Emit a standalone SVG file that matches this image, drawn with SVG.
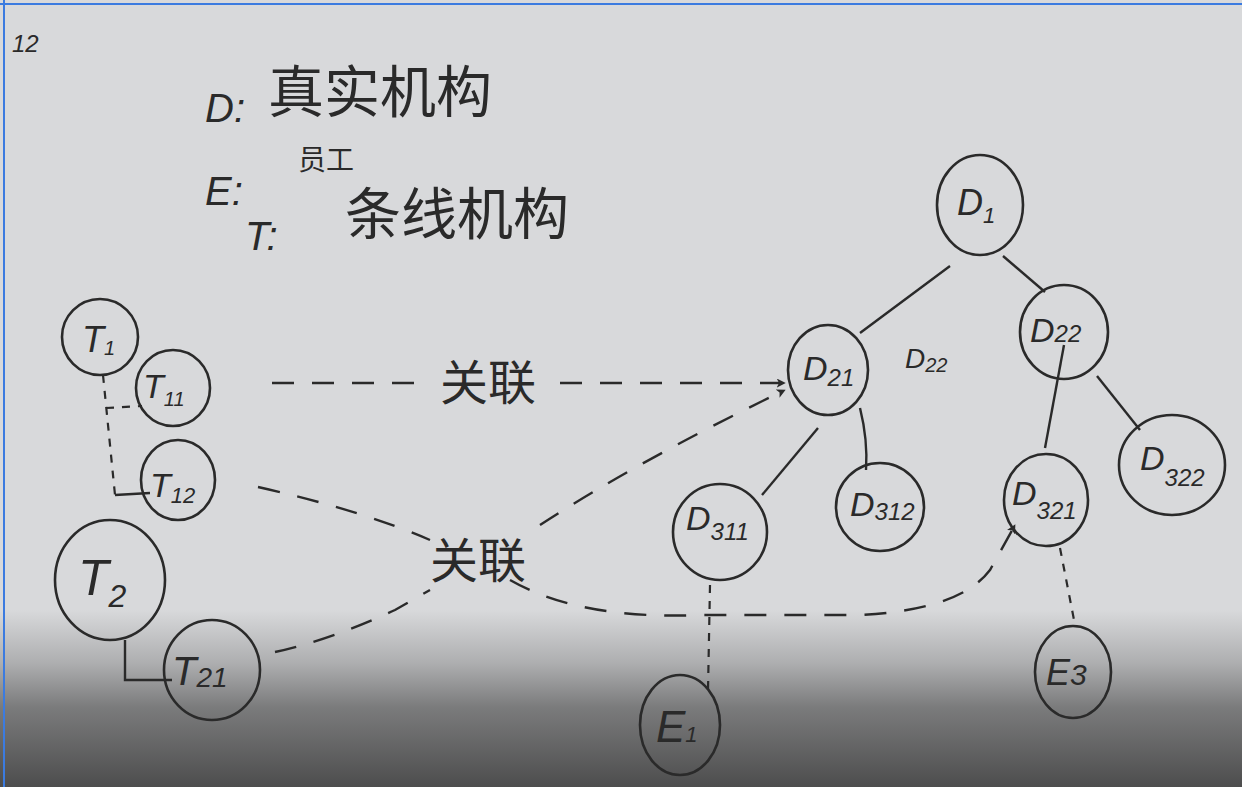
<svg xmlns="http://www.w3.org/2000/svg" width="1242" height="787" viewBox="0 0 1242 787">
<defs>
<linearGradient id="shade" x1="0" y1="0" x2="0" y2="1">
<stop offset="0" stop-color="#2e2e2e" stop-opacity="0"/>
<stop offset="0.3" stop-color="#2e2e2e" stop-opacity="0.25"/>
<stop offset="0.55" stop-color="#2e2e2e" stop-opacity="0.55"/>
<stop offset="1" stop-color="#2a2a2a" stop-opacity="0.8"/>
</linearGradient>
<marker id="arr" viewBox="0 0 12 12" refX="11" refY="6" markerWidth="9" markerHeight="9" orient="auto" markerUnits="userSpaceOnUse">
<path d="M0,0 L12,6 L0,12 L3,6 Z" fill="#2a2a2a"/>
</marker>
</defs>
<style>
.bg{fill:#d8d9db}
.node{fill:none;stroke:#2a2a2a;stroke-width:2.6}
.lab{font-family:"Liberation Sans","Noto Sans CJK SC",sans-serif;fill:#2a2a2a;font-style:italic}
.cn{font-family:"Noto Sans CJK SC","Liberation Sans",sans-serif;fill:#2a2a2a}
.solid{fill:none;stroke:#2a2a2a;stroke-width:2.4}
.dash{fill:none;stroke:#2a2a2a;stroke-width:2.4;stroke-dasharray:22 18}
.dash2{fill:none;stroke:#2a2a2a;stroke-width:2.2;stroke-dasharray:8 8}
</style>
<rect class="bg" x="0" y="0" width="1242" height="787"/>
<rect x="0" y="610" width="1242" height="177" fill="url(#shade)"/>
<line x1="0" y1="4" x2="1242" y2="4" stroke="#3b7be0" stroke-width="2"/>
<line x1="4" y1="0" x2="4" y2="787" stroke="#3b7be0" stroke-width="2"/>

<g id="legend">
<text class="lab" x="12" y="52" font-size="24" font-style="normal">12</text>
<text class="lab" x="205" y="122" font-size="40">D:</text>
<text class="cn" x="268" y="112" font-size="56">真实机构</text>
<text class="lab" x="205" y="205" font-size="40">E:</text>
<text class="cn" x="298" y="170" font-size="28">员工</text>
<text class="lab" x="245" y="250" font-size="40" font-style="normal">T:</text>
<text class="cn" x="345" y="234" font-size="56">条线机构</text>
</g>

<g id="connectors">
<line class="solid" x1="950" y1="266" x2="860" y2="333"/>
<line class="solid" x1="1003" y1="256" x2="1045" y2="292"/>
<line class="solid" x1="818" y1="428" x2="762" y2="495"/>
<path class="solid" d="M860,408 Q868,440 866,470"/>
<line class="solid" x1="1064" y1="345" x2="1045" y2="448"/>
<line class="solid" x1="1097" y1="376" x2="1140" y2="430"/>
<path class="dash2" d="M103,375 L115,495"/>
<line class="dash2" x1="106" y1="408" x2="142" y2="406"/>
<line class="solid" x1="115" y1="495" x2="150" y2="493"/>
<path class="solid" d="M125,640 L125,680 L172,680"/>
<path class="dash" d="M272,383 L430,383"/>
<path class="dash" d="M560,383 L785,383" marker-end="url(#arr)"/>
<path class="dash" d="M258,487 Q360,510 430,540"/>
<path class="dash" d="M510,580 Q580,620 700,615 L860,615 Q960,610 990,570 L1015,525" marker-end="url(#arr)"/>
<path class="dash" d="M275,652 Q330,640 395,610 L430,590"/>
<path class="dash" d="M540,525 Q640,460 785,390" marker-end="url(#arr)"/>
<line class="dash2" x1="710" y1="585" x2="708" y2="690"/>
<line class="dash2" x1="1060" y1="548" x2="1075" y2="625"/>
<text class="cn" x="440" y="400" font-size="48">关联</text>
<text class="cn" x="430" y="578" font-size="48">关联</text>
<text class="lab" x="905" y="368" font-size="28">D<tspan font-size="20" dy="4">22</tspan></text>
</g>

<g id="D1"><ellipse class="node" cx="980" cy="205" rx="43" ry="50"/><text class="lab" x="957" y="215" font-size="36">D<tspan font-size="22" dy="8">1</tspan></text></g>
<g id="D21"><ellipse class="node" cx="828" cy="370" rx="40" ry="45"/><text class="lab" x="803" y="380" font-size="34">D<tspan font-size="24" dy="6">21</tspan></text></g>
<g id="D22"><ellipse class="node" cx="1064" cy="332" rx="44" ry="47"/><text class="lab" x="1030" y="342" font-size="34">D<tspan font-size="24" dy="0">22</tspan></text></g>
<g id="D311"><ellipse class="node" cx="720" cy="532" rx="47" ry="48"/><text class="lab" x="686" y="530" font-size="34">D<tspan font-size="24" dy="10">311</tspan></text></g>
<g id="D312"><ellipse class="node" cx="880" cy="507" rx="44" ry="44"/><text class="lab" x="850" y="516" font-size="34">D<tspan font-size="24" dy="4">312</tspan></text></g>
<g id="D321"><ellipse class="node" cx="1046" cy="500" rx="42" ry="46"/><text class="lab" x="1012" y="505" font-size="34">D<tspan font-size="24" dy="14">321</tspan></text></g>
<g id="D322"><ellipse class="node" cx="1172" cy="465" rx="53" ry="50"/><text class="lab" x="1140" y="470" font-size="34">D<tspan font-size="24" dy="16">322</tspan></text></g>
<g id="E1"><ellipse class="node" cx="680" cy="725" rx="40" ry="50"/><text class="lab" x="656" y="742" font-size="44" font-style="normal">E<tspan font-size="22" dy="0">1</tspan></text></g>
<g id="E3"><ellipse class="node" cx="1073" cy="672" rx="38" ry="46"/><text class="lab" x="1046" y="685" font-size="36" font-style="normal">E<tspan font-size="30">3</tspan></text></g>
<g id="T1"><ellipse class="node" cx="100" cy="337" rx="38" ry="38"/><text class="lab" x="82" y="352" font-size="36" font-style="normal">T<tspan font-size="20" dy="3">1</tspan></text></g>
<g id="T11"><ellipse class="node" cx="173" cy="388" rx="37" ry="38"/><text class="lab" x="143" y="398" font-size="34" font-style="normal">T<tspan font-size="20" dy="8">11</tspan></text></g>
<g id="T12"><ellipse class="node" cx="178" cy="480" rx="37" ry="40"/><text class="lab" x="150" y="497" font-size="34" font-style="normal">T<tspan font-size="22" dy="6">12</tspan></text></g>
<g id="T2"><ellipse class="node" cx="110" cy="580" rx="55" ry="60"/><text class="lab" x="78" y="595" font-size="50" font-style="normal">T<tspan font-size="32" dy="12">2</tspan></text></g>
<g id="T21"><ellipse class="node" cx="212" cy="670" rx="48" ry="50"/><text class="lab" x="172" y="685" font-size="40" font-style="normal">T<tspan font-size="28" dy="2">21</tspan></text></g>
</svg>
